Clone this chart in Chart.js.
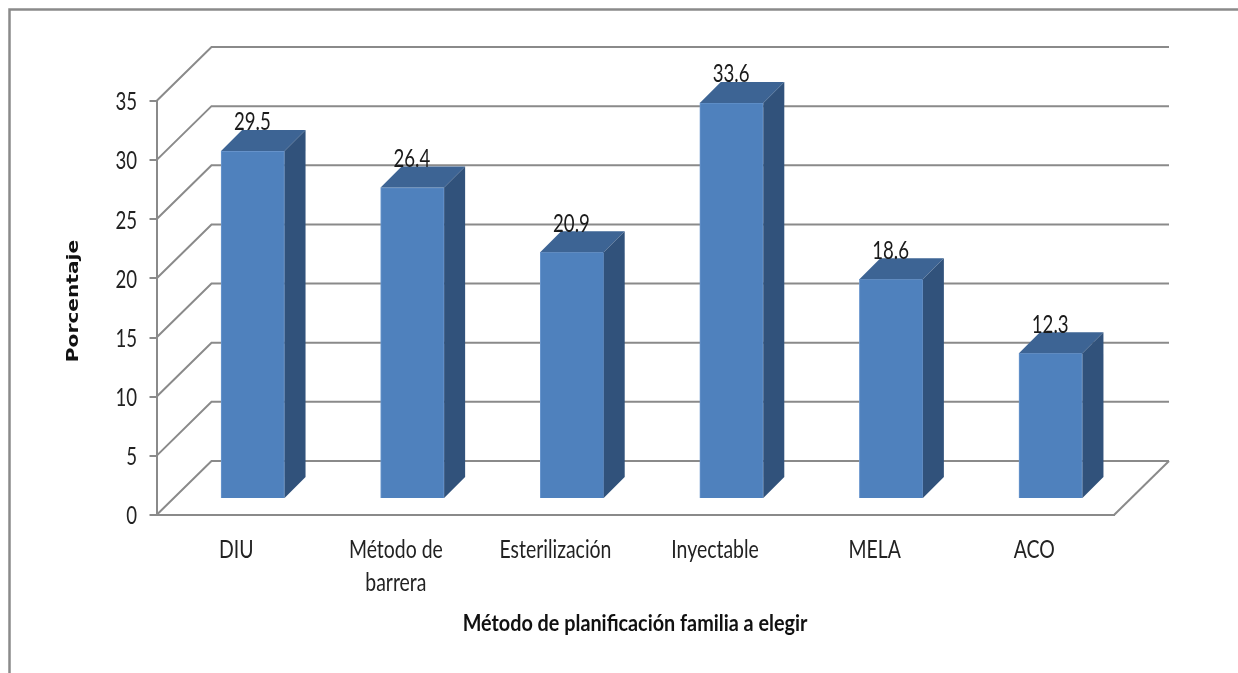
<!DOCTYPE html>
<html><head><meta charset="utf-8">
<style>html,body{margin:0;padding:0;background:#fff}canvas{display:block}</style>
<script src="https://cdn.jsdelivr.net/npm/chart.js@4"></script>
</head><body>
<div style="width:1238px;height:673px;position:relative"><canvas id="c" width="1238" height="673"></canvas></div>
<script>
const categories = [["DIU"],["Método de","barrera"],["Esterilización"],["Inyectable"],["MELA"],["ACO"]];
const values = [29.5,26.4,20.9,33.6,18.6,12.3];
const valueLabels = ["29.5","26.4","20.9","33.6","18.6","12.3"];
const yTicks = [0,5,10,15,20,25,30,35];
const yAxisTitle = "Porcentaje";
const xAxisTitle = "Método de planificación familia a elegir";

const GRID="#8a8a8a", FRONT="#4f81bd", EDGE="#6c98cf", TOP="#3d6494", SIDE="#31527b", INK="#222";
const WALL_DX=55, WALL_DY=54, BAR_DX=21, BAR_DY=21, BAR_SHIFT=16.5;
const LABEL_FONT='23px Lato', TITLE_FONT='bold 22px Lato', Y_TITLE_FONT='bold 16px "DejaVu Sans"';

function stretched(g,text,x,y,sx,sy,font,align,color,rot){
  g.save();
  g.translate(x,y);
  if(rot) g.rotate(rot);
  g.scale(sx,sy);
  g.font=font; g.fillStyle=color; g.textAlign=align; g.textBaseline='middle';
  g.fillText(text,0,0);
  g.restore();
}

const box3d={
  id:'box3d',
  beforeDraw(c){
    const g=c.ctx; g.save(); g.strokeStyle=GRID; g.lineWidth=2.5;
    g.beginPath(); g.moveTo(1238,9.5); g.lineTo(9.5,9.5); g.lineTo(9.5,673); g.stroke(); g.restore();
  },
  beforeDatasetsDraw(c){
    const g=c.ctx,y=c.scales.y,a=c.chartArea;
    g.save(); g.strokeStyle=GRID; g.lineWidth=2;
    y.ticks.forEach(t=>{
      const p=y.getPixelForValue(t.value);
      g.beginPath(); g.moveTo(a.left,p); g.lineTo(a.left+WALL_DX,p-WALL_DY); g.lineTo(a.right+WALL_DX,p-WALL_DY); g.stroke();
    });
    g.beginPath(); g.moveTo(a.right,a.bottom); g.lineTo(a.right+WALL_DX,a.bottom-WALL_DY); g.stroke();
    g.restore();
    g.save(); g.translate(BAR_SHIFT,0);
  },
  afterDatasetsDraw(c){
    const g=c.ctx;
    const bars=c.getDatasetMeta(0).data;
    bars.forEach(b=>{
      const l=b.x-b.width/2,r=b.x+b.width/2;
      g.fillStyle=TOP; g.beginPath(); g.moveTo(l,b.y); g.lineTo(l+BAR_DX,b.y-BAR_DY); g.lineTo(r+BAR_DX,b.y-BAR_DY); g.lineTo(r,b.y); g.closePath(); g.fill();
      g.fillStyle=SIDE; g.beginPath(); g.moveTo(r,b.y); g.lineTo(r+BAR_DX,b.y-BAR_DY); g.lineTo(r+BAR_DX,b.base-BAR_DY); g.lineTo(r,b.base); g.closePath(); g.fill();
    });
    bars.forEach((b,i)=>stretched(g,valueLabels[i],b.x-0.5,b.y-28.5,0.81,1.05,LABEL_FONT,'center','#1a1a1a'));
    g.restore();
  },
  afterDraw(c){
    const g=c.ctx,x=c.scales.x,y=c.scales.y;
    y.ticks.forEach(t=>stretched(g,String(t.value),137,y.getPixelForValue(t.value)+1.5,0.81,1.05,LABEL_FONT,'right',INK));
    categories.forEach((lines,i)=>{
      const px=x.getPixelForValue(i);
      lines.forEach((s,k)=>stretched(g,s,px,550+k*33,0.845,1.05,LABEL_FONT,'center',INK));
    });
    stretched(g,xAxisTitle,635,624,0.9,1.05,TITLE_FONT,'center','#111');
    stretched(g,yAxisTitle,74,301,1.26,1,Y_TITLE_FONT,'center','#111',-Math.PI/2);
  }
};

new Chart(document.getElementById('c'),{
  type:'bar',
  data:{labels:categories,datasets:[{data:values,yAxisID:'yBars',backgroundColor:FRONT,borderColor:EDGE,borderWidth:1,barThickness:63.5,clip:false}]},
  plugins:[box3d],
  options:{
    responsive:false,animation:false,
    layout:{padding:{left:0,right:124,top:101,bottom:0}},
    plugins:{legend:{display:false},tooltip:{enabled:false},title:{display:false}},
    scales:{
      x:{
        grid:{display:false},
        border:{display:true,color:GRID,width:2},
        ticks:{display:false},
        afterFit(s){s.height=158;}
      },
      y:{
        min:0,max:35,
        afterBuildTicks(s){s.ticks=yTicks.map(v=>({value:v}));},
        grid:{drawOnChartArea:false,color:GRID,lineWidth:2,tickLength:7},
        border:{display:true,color:GRID,width:2},
        ticks:{display:false},
        afterFit(s){s.width=156.5;}
      },
      yBars:{display:false,min:-1.446,max:33.76}
    }
  }
});
</script>
</body></html>
